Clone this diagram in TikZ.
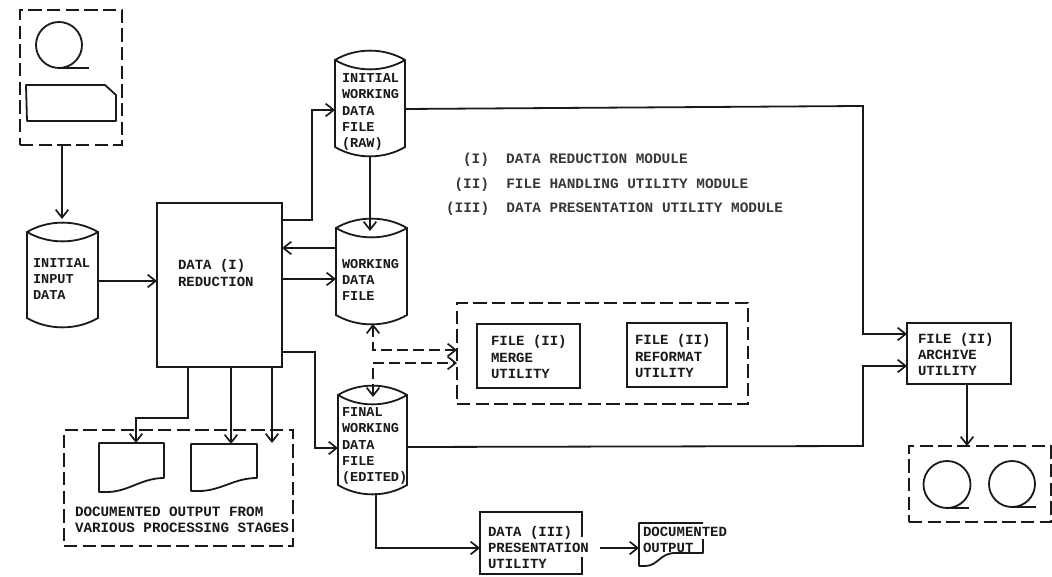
\documentclass[tikz,border=0pt]{standalone}
\usepackage{fontspec}
\setmainfont{Liberation Mono}
\usetikzlibrary{arrows.meta}
\tikzset{x=0.75pt,y=-0.75pt,
 every node/.style={inner sep=0,outer sep=0},
 ln/.style={line width=1.35pt,draw=black!90},
 arr/.style={ln,-{Straight Barb[length=6pt,width=9.5pt,line width=1.25pt]}},
 dbox/.style={line width=1.2pt,draw=black!90,dash pattern=on 10pt off 4pt},
 darr/.style={line width=1.2pt,draw=black!90,dash pattern=on 8pt off 4pt,{Straight Barb[length=6pt,width=9.5pt,line width=1.25pt]}-{Straight Barb[length=6pt,width=9.5pt,line width=1.25pt]}},
 lbl/.style={font=\fontsize{10.5pt}{12.2pt}\selectfont\bfseries,align=left,anchor=west,text=black!90},
 clbl/.style={font=\fontsize{10.2pt}{12.2pt}\selectfont\bfseries,align=left,anchor=west,text=black!90},
 wlbl/.style={font=\fontsize{10.7pt}{12.2pt}\selectfont\bfseries,align=left,anchor=west,text=black!90},
 pl/.style={font=\fontsize{10.8pt}{12.2pt}\selectfont\bfseries,anchor=west,text=black!78}}
% invisible/visible rectangular node spanning x1,y1 to x2,y2
\newcommand{\rnode}[6]{% style,name,x1,y1,x2,y2
 \node[#1,minimum width={(#5-#3)*0.75pt},minimum height={(#6-#4)*0.75pt}] (#2) at ({(#3+#5)/2},{(#4+#6)/2}) {};
}
\newcommand{\cylnode}[6]{% name,x1,x2,ytop,ybot,lip
 \rnode{}{#1}{#2}{#4}{#3}{#5}
 \draw[ln] (#2,#4) .. controls ({#2+(#3-#2)*.3},{#4-#6}) and ({#3-(#3-#2)*.3},{#4-#6}) .. (#3,#4) -- (#3,#5)
   .. controls ({#3-(#3-#2)*.3},{#5+#6}) and ({#2+(#3-#2)*.3},{#5+#6}) .. (#2,#5) -- cycle;
 \draw[ln] (#2,#4) .. controls ({#2+(#3-#2)*.3},{#4+#6}) and ({#3-(#3-#2)*.3},{#4+#6}) .. (#3,#4);
}
\newcommand{\docshape}[6]{% name,x1,y1,x2,y2,ymid
 \rnode{}{#1}{#2}{#3}{#4}{#5}
 \draw[ln,line join=round] (#2,#3) -- (#4,#3) -- (#4,#6) .. controls ({#4-(#4-#2)*.35},#6) and ({#2+(#4-#2)*.45},#5) .. ({#2+(#4-#2)*.12},#5) -- (#2,#5) -- cycle;
}
\newcommand{\tapeshape}[5]{% name,cx,cy,r,tail x
 \node[circle,draw=black!90,line width=1.35pt,minimum size={2*#4*0.75pt}] (#1) at (#2,#3) {};
 \draw[ln] (#1.south) -- (#5,{#3+#4});
}
\begin{document}
\begin{tikzpicture}
\useasboundingbox (0,0) rectangle (1052,577);
% input group
\rnode{dbox,draw}{ingroup}{20}{10}{122}{145}
\tapeshape{intape}{59}{45}{23}{89}
\draw[ln,line join=round] (26,85) -- (105,85) -- (116,95) -- (116,121) -- (27,121) -- cycle;
% cylinders
\cylnode{cA}{27}{98}{232}{318}{12.5}
\node[clbl] (tA) at (33,279) {INITIAL\\INPUT\\DATA};
\cylnode{cB}{335}{405}{60}{147}{12.5}
\node[clbl] (tB) at (342,112) {INITIAL\\WORKING\\DATA\\FILE\\(RAW)};
\cylnode{cC}{336}{407}{228}{315}{12.5}
\node[clbl] (tC) at (342,280) {WORKING\\DATA\\FILE};
\cylnode{cD}{338}{407}{395}{485}{12.5}
\node[clbl] (tD) at (342,446) {FINAL\\WORKING\\DATA\\FILE\\(EDITED)};
% reduction
\rnode{ln,draw}{red}{157}{203}{282}{367}
\node[lbl] (tR) at (178,273) {DATA (I)\\REDUCTION};
% legend
\node[pl] (l1) at (463,160) {(I)\ \ DATA REDUCTION MODULE};
\node[pl] (l2) at (454.5,185) {(II)\ \ FILE HANDLING UTILITY MODULE};
\node[pl] (l3) at (446,208.5) {(III)\ \ DATA PRESENTATION UTILITY MODULE};
% utility group
\rnode{dbox,draw}{ugroup}{457}{303}{748}{404}
\rnode{ln,draw}{merge}{477}{324}{580}{388}
\node[lbl] (tM) at (491,357) {FILE (II)\\MERGE\\UTILITY};
\rnode{ln,draw}{reformat}{627}{323}{727}{387}
\node[lbl] (tF) at (635,356) {FILE (II)\\REFORMAT\\UTILITY};
% archive
\rnode{ln,draw}{archive}{907}{323}{1011}{384}
\node[lbl] (tV) at (918,354.5) {FILE (II)\\ARCHIVE\\UTILITY};
\rnode{dbox,draw}{tgroup}{909}{446}{1051}{522}
\tapeshape{tapeA}{947}{484.5}{23.5}{969}
\tapeshape{tapeB}{1012}{484}{23}{1036}
% documented output group
\rnode{dbox,draw}{dgroup}{64}{430}{293}{546}
\docshape{docA}{99}{443}{164}{492}{478}
\docshape{docB}{191}{444}{257}{491}{478}
\node[wlbl] (tO) at (75,520) {DOCUMENTED OUTPUT FROM\\VARIOUS PROCESSING STAGES};
% presentation
\rnode{}{pres}{480}{512}{582}{574}
\draw[ln] (582,537) -- (582,512) -- (480,512) -- (480,574) -- (582,574) -- (582,557);
\node[lbl] (tP) at (488,547.5) {DATA (III)\\PRESENTATION\\UTILITY};
% small document
\rnode{}{docC}{639}{523}{704}{566}
\draw[ln,line join=round] (703,523) -- (639,523) -- (639,566) -- (645,566) .. controls (658,566) and (660,553) .. (675,553) -- (703,553) -- (703,539);
\node[lbl] (tS) at (643,540) {DOCUMENTED\\OUTPUT};
% connectors
\draw[arr] (ingroup.south -| 62,0) -- (62,219);
\draw[arr] (cA.east |- 0,281) -- (red.west |- 0,281);
\draw[arr] (red.east |- 0,220) -- (312,220) -- (312,110) -- (cB.west |- 0,110);
\draw[arr] (cC.west |- 0,248) -- (red.east |- 0,248);
\draw[arr] (red.east |- 0,279) -- (cC.west |- 0,279);
\draw[arr] (red.east |- 0,352) -- (315,352) -- (315,448) -- (cD.west |- 0,448);
\draw[arr] (cB.south -| 370,0) ++(0,9) -- (370,231);
\draw[arr] (cB.east |- 0,109) -- (860,106) -- (863,106) -- (863,334) -- (archive.west |- 0,334);
\draw[arr] (cD.east |- 0,447) -- (863,446) -- (863,366) -- (archive.west |- 0,366);
\draw[arr] (red.south -| 188,0) -- (188,418) -- (136,418) -- (136,443);
\draw[arr] (red.south -| 231,0) -- (docB.north -| 231,0);
\draw[arr] (red.south -| 272,0) -- (272,443);
\draw[arr] (cD.south -| 376,0) ++(0,8) -- (376,548) -- (pres.west |- 0,548);
\draw[arr] (archive.south -| 967,0) -- (tgroup.north -| 967,0);
\draw[darr] (cC.south -| 373,0) ++(0,9) -- (373,350) -- (ugroup.west |- 0,350);
\draw[darr] (373,397) -- (373,363) -- (ugroup.west |- 0,363);
\draw[arr] (600,548) -- (docC.west |- 0,548);
\end{tikzpicture}
\end{document}
